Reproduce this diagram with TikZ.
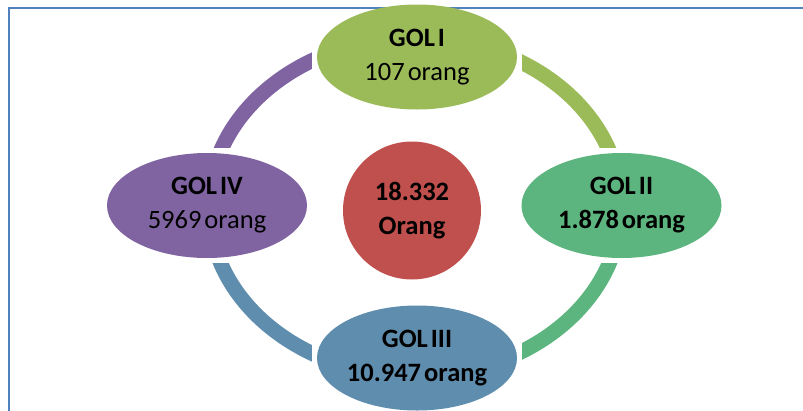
\documentclass[tikz,border=0pt]{standalone}
\usepackage{fontspec}
\setmainfont{Carlito}[WordSpace=0.5]
\usetikzlibrary{shapes.geometric,calc}
\definecolor{cgA}{HTML}{9BBB59}
\definecolor{cgB}{HTML}{5CB57E}
\definecolor{cbl}{HTML}{5F8DAE}
\definecolor{cpu}{HTML}{8064A2}
\definecolor{crd}{HTML}{C0504D}
\definecolor{cfr}{HTML}{4F81BD}
\tikzset{
  golnode/.style={ellipse, minimum width=200pt, minimum height=105pt, inner sep=0pt,
    align=center, text=black, font=\fontsize{26.5}{34}\selectfont},
  midnode/.style={circle, minimum size=138pt, inner sep=0pt, fill=crd,
    align=center, text=black, font=\fontsize{26.5}{34}\selectfont\bfseries},
  ringseg/.style={line width=15pt},
  frameline/.style={draw=cfr, line width=2pt}
}
\begin{document}
\begin{tikzpicture}[x=1pt, y=-1pt]
\useasboundingbox (0,0) rectangle (803,410);
\draw[frameline] (9,430) -- (9,8) -- (830,8);
% nodes
\node[golnode, fill=cgA] (g1) at (417,57) {\textbf{GOL I}\\107 orang};
\node[golnode, fill=cgB] (g2) at (621.5,205.5) {\textbf{GOL II}\\\textbf{1.878 orang}};
\node[golnode, fill=cbl] (g3) at (417,358) {\textbf{GOL III}\\\textbf{10.947 orang}};
\node[golnode, fill=cpu] (g4) at (207,205.5) {\textbf{GOL IV}\\5969 orang};
\node[midnode] (c) at (412,210.5) {18.332\\Orang};
% cut points for ring segments
\coordinate (rc) at (415,207);
\coordinate (cw1) at ([xshift=-5pt]g1.west);
\coordinate (ce1) at ([xshift=5pt]g1.east);
\coordinate (cw3) at ([xshift=-5pt]g3.west);
\coordinate (ce3) at ([xshift=5pt]g3.east);
\coordinate (cn4) at ([yshift=5pt]g4.north);
\coordinate (cs4) at ([yshift=-5pt]g4.south);
\coordinate (cn2) at ([yshift=5pt]g2.north);
\coordinate (cs2) at ([yshift=-5pt]g2.south);
% ring segments
\begin{scope}
  \clip (0,0) rectangle (cw1 |- cn4);
  \draw[ringseg, cpu] (rc) ellipse [x radius=206pt, y radius=169pt];
\end{scope}
\begin{scope}
  \clip (ce1 |- 0,0) rectangle (803,0 |- cn2);
  \draw[ringseg, cgA] (rc) ellipse [x radius=206pt, y radius=169pt];
\end{scope}
\begin{scope}
  \clip (ce3 |- cs2) rectangle (803,410);
  \draw[ringseg, cgB] (rc) ellipse [x radius=206pt, y radius=169pt];
\end{scope}
\begin{scope}
  \clip (0,0 |- cs4) rectangle (cw3 |- 0,410);
  \draw[ringseg, cbl] (rc) ellipse [x radius=206pt, y radius=169pt];
\end{scope}
\end{tikzpicture}
\end{document}
